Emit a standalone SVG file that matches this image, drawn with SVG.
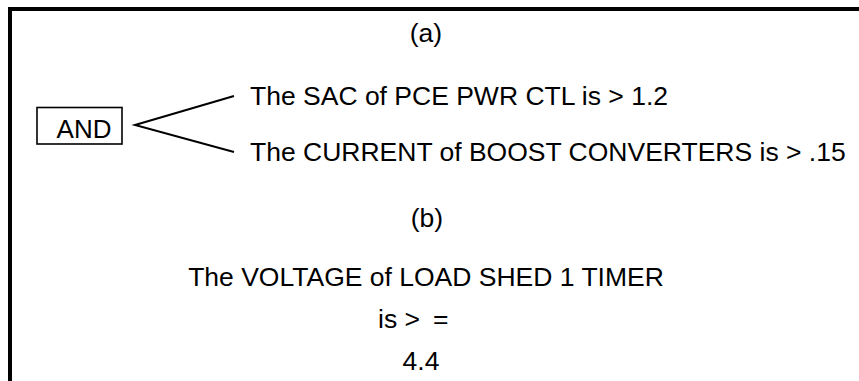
<svg xmlns="http://www.w3.org/2000/svg" width="859" height="381" viewBox="0 0 859 381">
<style>
  .t { font-family: "Liberation Sans", Arial, sans-serif; font-size: 26.5px; fill: #000; }
  .c { text-anchor: middle; }
  .frame { stroke: #000; stroke-width: 4; fill: none; }
  .conn { stroke: #000; stroke-width: 2; fill: none; }
</style>
<rect width="859" height="381" fill="#fff"/>
<g id="frame">
  <path class="frame" d="M10 381 V9 H859"/>
</g>
<g id="label-a"><text class="t c" x="426" y="42">(a)</text></g>
<g id="and-node">
  <rect x="37" y="107.5" width="85" height="36.5" fill="#fff" stroke="#000" stroke-width="1.6"/>
  <text class="t c" x="84" y="138" style="font-size:26px">AND</text>
</g>
<g id="cond1"><text class="t" x="250" y="105">The SAC of PCE PWR CTL is &gt; 1.2</text></g>
<g id="cond2"><text class="t" x="250" y="161">The CURRENT of BOOST CONVERTERS is &gt; .15</text></g>
<g id="connectors">
  <polyline class="conn" points="234,96 135,125 234,152"/>
</g>
<g id="label-b"><text class="t c" x="427" y="227">(b)</text></g>
<g id="cond-b">
  <text class="t c" x="426" y="286">The VOLTAGE of LOAD SHED 1 TIMER</text>
  <text class="t" x="378" y="328">is &gt;<tspan dx="13">=</tspan></text>
  <text class="t c" x="421" y="370">4.4</text>
</g>
</svg>
